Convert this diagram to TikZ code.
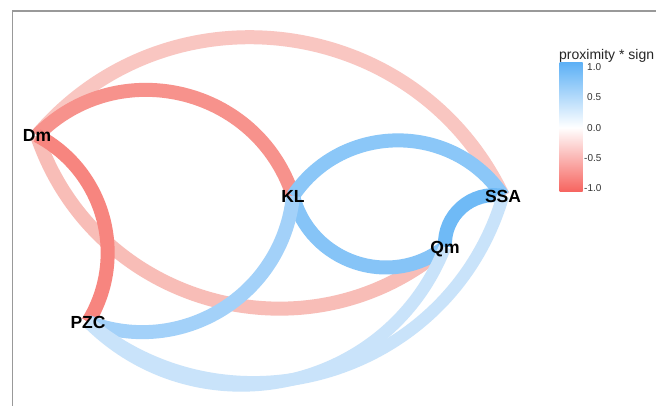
\documentclass[tikz,border=0pt]{standalone}
\usepackage{fontspec}
\setmainfont{Liberation Sans}
\definecolor{pinkA}{HTML}{F9C6C1}
\definecolor{pinkB}{HTML}{F8BDB7}
\definecolor{redA}{HTML}{F7928C}
\definecolor{redB}{HTML}{F7857F}
\definecolor{blueA}{HTML}{8BC7F8}
\definecolor{blueB}{HTML}{86C4F7}
\definecolor{blueC}{HTML}{6FBAF6}
\definecolor{blueD}{HTML}{A3D1F9}
\definecolor{blueE}{HTML}{C9E3FA}
\definecolor{legblue}{HTML}{5EB1F6}
\definecolor{legred}{HTML}{F6635E}
\begin{document}
\begin{tikzpicture}[x=1pt,y=1pt,
  edge/.style={line width=14pt, line cap=butt},
  thinedge/.style={line width=12.5pt, line cap=butt},
  lbl/.style={font=\fontsize{17.5}{20}\selectfont\bfseries, inner sep=0pt, text height=12.5pt, text depth=0pt},
  tick/.style={font=\fontsize{10}{12}\selectfont, anchor=west, inner sep=0pt, text=black!80},
]
\useasboundingbox (0,0) rectangle (656,-406);
\fill[white] (0,0) rectangle (656,-406);
\draw[gray!80, line width=1.2pt] (12.3,-406) -- (12.3,-11) -- (656,-11);

\coordinate (Dm) at (37,-135.5);
\coordinate (KL) at (293,-196);
\coordinate (SSA) at (503,-196);
\coordinate (Qm) at (445,-247);
\coordinate (PZC) at (88,-322);

% negative edges
\draw[edge, pinkA] (Dm) to[bend left=57, looseness=1.10] (SSA);
\draw[edge, pinkB] (Dm) to[bend right=56, looseness=1.09] (Qm);
\draw[edge, redA] (Dm) to[bend left=58.7, looseness=1.12] (KL);
\draw[edge, redB] (Dm) to[bend left=47, looseness=1.01] (PZC);
% positive edges
\draw[edge, blueA] (KL) to[bend left=56.2, looseness=1.09] (SSA);
\draw[edge, blueB] (KL) to[bend right=56.7, looseness=1.10] (Qm);
\draw[edge, blueC] (SSA) to[bend right=52, looseness=1.05] (Qm);
\draw[edge, blueD] (KL) to[bend left=52.5, looseness=1.06] (PZC);
\draw[thinedge, blueE] (PZC) to[bend right=56.7, looseness=1.10] (SSA);
\draw[thinedge, blueE] (PZC) to[bend right=56.7, looseness=1.10] (Qm);

\node[lbl] (lDm) at (Dm) {Dm};
\node[lbl] (lKL) at (KL) {KL};
\node[lbl] (lSSA) at (SSA) {SSA};
\node[lbl] (lQm) at (Qm) {Qm};
\node[lbl] (lPZC) at (PZC) {PZC};

% legend
\shade[top color=legblue, bottom color=legred, middle color=white] (559.5,-63) rectangle (582.5,-192);
\node[anchor=base west, inner sep=0pt, font=\fontsize{14}{16}\selectfont, text=black!85] (title) at (559,-59.5) {proximity * sign};
\node[tick] (t1) at (587,-67) {1.0};
\node[tick] (t2) at (587,-97.5) {0.5};
\node[tick] (t3) at (587,-128) {0.0};
\node[tick] (t4) at (584,-158) {-0.5};
\node[tick] (t5) at (584,-188) {-1.0};
\end{tikzpicture}
\end{document}
